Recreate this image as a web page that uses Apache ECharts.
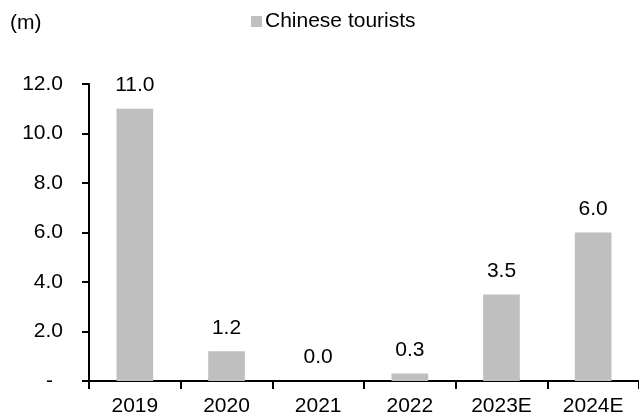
<!DOCTYPE html>
<html>
<head>
<meta charset="utf-8">
<script src="https://cdn.jsdelivr.net/npm/echarts@6/dist/echarts.min.js"></script>
<style>
html,body{margin:0;padding:0;background:#fff;}
#chart{width:639px;height:417px;}
</style>
</head>
<body>
<div id="chart"></div>
<script>
const categories = ['2019', '2020', '2021', '2022', '2023E', '2024E'];
const chineseTourists = [11.0, 1.2, 0.0, 0.3, 3.5, 6.0];
const seriesName = 'Chinese tourists';
const unitLabel = '(m)';

const FONT = '"Liberation Sans", Arial, sans-serif';
const chart = echarts.init(document.getElementById('chart'), null, {renderer: 'canvas'});
chart.setOption({
  animation: false,
  backgroundColor: '#ffffff',
  textStyle: {fontFamily: FONT, color: '#000'},
  graphic: [{
    type: 'text', left: 10, top: 13,
    style: {text: unitLabel, font: '21px ' + FONT, fill: '#000'}
  }],
  legend: {
    left: 246, top: 6,
    itemWidth: 11, itemHeight: 11,
    icon: 'rect',
    textStyle: {fontFamily: FONT, fontSize: 21, color: '#000', padding: [0,0,0,-2]},
    data: [seriesName]
  },
  grid: {left: 89, top: 84, width: 558, height: 300, containLabel: false},
  xAxis: {
    type: 'category',
    data: categories,
    boundaryGap: true,
    axisLine: {lineStyle: {color: '#000', width: 2}},
    axisTick: {show: true, alignWithLabel: false, length: 8, lineStyle: {color: '#000', width: 2}},
    axisLabel: {fontFamily: FONT, fontSize: 21, color: '#000', margin: 15, interval: 0}
  },
  yAxis: {
    type: 'value',
    min: 0, max: 12, interval: 2,
    splitLine: {show: false},
    axisLine: {show: true, lineStyle: {color: '#000', width: 2}},
    axisTick: {show: true, length: 7, lineStyle: {color: '#000', width: 2}},
    axisLabel: {
      fontFamily: FONT, fontSize: 21, color: '#000', margin: 26,
      formatter: v => v === 0 ? '{d|-}' : v.toFixed(1),
      rich: {d: {fontFamily: FONT, fontSize: 21, color: '#000', padding: [0, 10, 0, 0]}}
    }
  },
  series: [{
    name: seriesName,
    type: 'bar',
    data: chineseTourists,
    barWidth: '40%',
    itemStyle: {color: '#BFBFBF'},
    label: {
      show: true, position: 'top', distance: 13,
      fontFamily: FONT, fontSize: 21, color: '#000',
      formatter: p => p.value.toFixed(1)
    }
  }]
});
</script>
</body>
</html>
